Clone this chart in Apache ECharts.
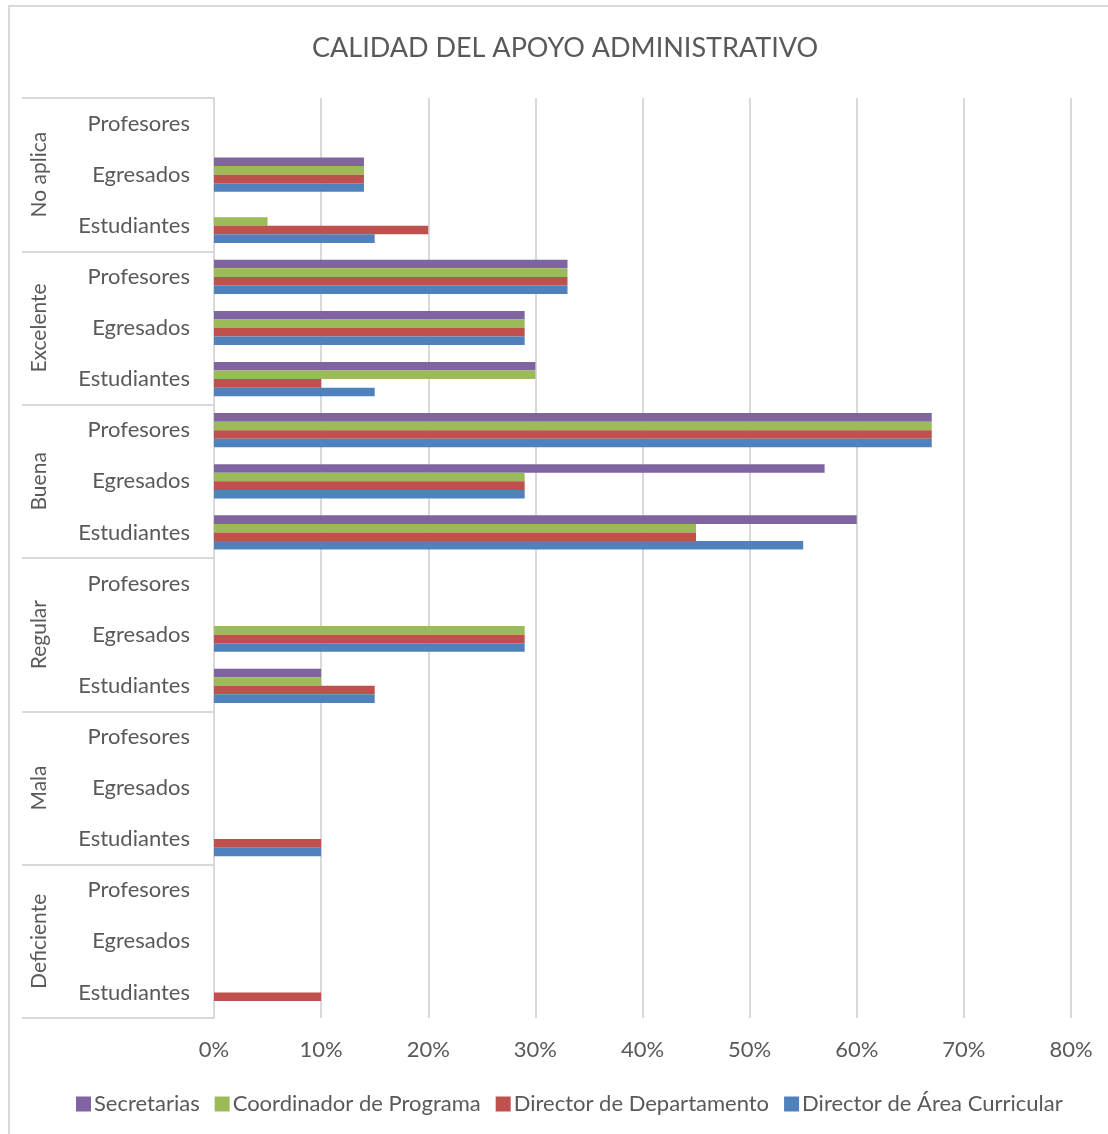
<!DOCTYPE html>
<html>
<head>
<meta charset="utf-8">
<script src="https://cdn.jsdelivr.net/npm/echarts@6/dist/echarts.min.js"></script>
<style>
  html, body { margin: 0; padding: 0; background: #fff; }
  #chart { width: 1108px; height: 1134px; }
</style>
</head>
<body>
<div id="chart"></div>
<script>
// Rating groups, listed bottom to top on the category axis
const groups = ['Deficiente', 'Mala', 'Regular', 'Buena', 'Excelente', 'No aplica'];
// Respondent types inside each group, bottom to top
const subgroups = ['Estudiantes', 'Egresados', 'Profesores'];
// Percent values per category (bottom to top: Deficiente/Estudiantes ... No aplica/Profesores)
const secretarias   = [0, 0, 0,   0, 0, 0,   10, 0, 0,    60, 57, 67,   30, 29, 33,   0, 14, 0];
const coordinador   = [0, 0, 0,   0, 0, 0,   10, 29, 0,   45, 29, 67,   30, 29, 33,   5, 14, 0];
const dirDepto      = [10, 0, 0,  10, 0, 0,  15, 29, 0,   45, 29, 67,   10, 29, 33,   20, 14, 0];
const dirArea       = [0, 0, 0,   10, 0, 0,  15, 29, 0,   55, 29, 67,   15, 29, 33,   15, 14, 0];
const xTicks = [0, 10, 20, 30, 40, 50, 60, 70, 80];

const categories = [];
groups.forEach(() => subgroups.forEach(s => categories.push(s)));

const FONT = 'Lato';
const TXT = '#595959';
const LINE = '#d9d9d9';

const chart = echarts.init(document.getElementById('chart'));

function barSeries(name, data, color) {
  return {
    name: name,
    type: 'bar',
    data: data,
    yAxisIndex: 0,
    barGap: '0%',
    barCategoryGap: '33%',
    itemStyle: { color: color },
    emphasis: { disabled: true }
  };
}

chart.setOption({
  animation: false,
  textStyle: { fontFamily: FONT },
  title: {
    text: 'CALIDAD DEL APOYO ADMINISTRATIVO',
    left: 307,
    top: 30,
    textStyle: { fontFamily: FONT, fontSize: 27, fontWeight: 'normal', color: TXT }
  },
  legend: {
    bottom: 14,
    left: 71,
    icon: 'rect',
    itemWidth: 15,
    itemHeight: 15,
    itemGap: 15,
    textStyle: { fontFamily: FONT, fontSize: 22, color: TXT, padding: [0, 0, 0, -2] },
    data: ['Secretarias', 'Coordinador de Programa', 'Director de Departamento', 'Director de Área Curricular']
  },
  grid: { left: 214, top: 98, width: 857, height: 920, containLabel: false },
  xAxis: {
    type: 'value',
    min: xTicks[0],
    max: xTicks[xTicks.length - 1],
    interval: 10,
    axisLine: { show: false },
    axisTick: { show: false },
    axisLabel: { formatter: '{value}%', fontFamily: FONT, fontSize: 22, color: TXT, margin: 21 },
    splitLine: { lineStyle: { color: LINE, width: 2 } }
  },
  yAxis: [
    {
      type: 'category',
      data: categories,
      axisLine: { show: true, lineStyle: { color: LINE, width: 2 } },
      axisTick: { show: false },
      axisLabel: { fontFamily: FONT, fontSize: 22, color: TXT, margin: 24 },
      splitLine: { show: false }
    },
    {
      type: 'category',
      data: groups,
      position: 'left',
      offset: 192,
      axisLine: { show: false },
      axisTick: { show: true, inside: true, length: 192, lineStyle: { color: LINE, width: 2 } },
      axisLabel: { inside: true, rotate: 90, margin: 7, fontFamily: FONT, fontSize: 21, color: TXT },
      splitLine: { show: false }
    }
  ],
  graphic: [{
    type: 'rect',
    shape: { x: 9, y: 6, width: 1130, height: 1150 },
    style: { fill: 'none', stroke: LINE, lineWidth: 2 },
    silent: true
  }],
  series: [
    barSeries('Secretarias', secretarias, '#8064A2'),
    barSeries('Coordinador de Programa', coordinador, '#9BBB59'),
    barSeries('Director de Departamento', dirDepto, '#C0504D'),
    barSeries('Director de Área Curricular', dirArea, '#4F81BD')
  ]
});
</script>
</body>
</html>
